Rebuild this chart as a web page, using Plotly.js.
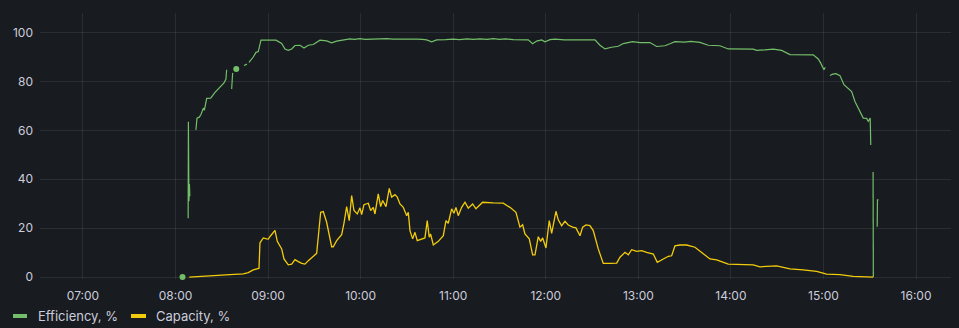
<!DOCTYPE html>
<html>
<head>
<meta charset="utf-8">
<script src="https://cdn.plot.ly/plotly-3.0.1.min.js"></script>
<style>
html,body{margin:0;padding:0;background:#181b1f;}
#chart{width:959px;height:328px;}
</style>
</head>
<body>
<div id="chart"></div>
<script>
// ---- data ----
const day = '2024-05-01 ';
const seriesNames = ['Efficiency, %', 'Capacity, %'];
const seriesColors = ['#73bf69', '#f2cc0c'];

const effTime = ['08:04:30','08:06:00','08:08:10','08:08:20','08:08:40','08:09:00','08:09:15','08:11:00',
'08:13:13','08:13:54','08:15:23','08:16:29','08:18:00','08:18:40','08:20:11','08:22:47','08:25:34','08:28:48','08:31:24','08:32:41','08:33:07','08:34:30',
'08:36:23','08:37:02','08:38:00','08:39:22','08:42:00','08:44:22','08:46:18','08:47:00',
'08:47:36','08:50:23','08:52:09','08:53:38','08:55:22','09:05:06','09:08:48','09:10:56','09:13:04','09:15:17','09:17:25','09:20:40','09:23:16','09:26:03','09:29:17','09:33:37','09:37:57','09:41:12','09:44:26','09:49:50',
'09:53:00','09:56:00','09:59:33','10:03:00','10:08:00','10:12:00','10:17:00','10:21:00','10:26:00','10:31:00','10:36:00','10:40:00','10:42:47','10:46:02','10:49:16','10:55:00','11:00:00','11:04:00','11:09:00','11:13:00','11:17:20','11:22:00','11:26:00','11:30:00','11:34:00','11:38:55','11:48:38','11:51:29','11:54:05','11:57:19','11:59:28','12:02:43','12:06:00','12:12:00','12:20:00','12:31:53',
'12:35:08','12:38:22','12:42:42','12:46:59','12:50:14','12:56:19','13:01:03','13:07:32','13:11:52','13:17:15','13:20:30','13:23:44','13:30:00','13:34:00','13:39:56','13:45:19','13:52:54','13:58:17','14:14:29','14:16:41','14:22:00','14:27:28','14:32:54','14:38:17','14:53:23','14:56:37','14:58:10','14:59:28','15:00:19','15:01:10','15:02:30',
'15:04:13','15:06:00','15:08:06','15:10:42','15:13:18','15:16:00','15:18:17','15:20:25','15:23:12','15:25:48','15:28:00','15:29:01','15:30:19','15:30:40','15:31:30',
'15:32:10','15:32:20','15:33:30','15:34:50','15:35:00','15:35:40'];
const effValue = [0,null,24,63.5,31,38,33,null,
60.2,65,65.4,66.5,69.1,68.2,73.1,73.2,75.5,77.7,79.4,81,84.8,null,
76.9,83.5,null,85.1,null,86.5,87.1,null,
87.8,90,91.9,92.2,96.9,96.9,95.5,93.3,92.7,93.3,94.7,94.8,93.7,94.8,95.1,96.9,96.6,95.8,96.5,97.1,
97.4,97.2,97.5,97.2,97.4,97.3,97.5,97.3,97.4,97.2,97.3,97.2,97.0,96.2,97.0,97.1,97.3,97.1,97.4,97.2,97.4,97.2,97.5,97.2,97.4,97.1,97.0,95.4,96.5,97.0,96.2,97.1,97.3,97.0,97.1,97.0,
94.8,93.3,94.0,94.4,95.5,96.3,95.9,95.9,94.3,94.6,95.4,96.3,96.1,96.4,96.0,94.8,94.6,93.3,93.2,92.7,92.9,93.2,92.7,91.0,90.9,89.2,87.6,85.8,84.8,85.8,null,
82.4,83.0,83.2,82.4,78.7,77.0,75.9,71.8,68.4,65.0,64.9,63.7,65.0,54,null,
43,0,null,20.6,31.6,31.6];

const capTime = ['08:08:54','08:15:50','08:26:40','08:27:30','08:35:17','08:43:54','08:47:08','08:50:23','08:53:14','08:54:05','08:54:44','08:56:53','08:59:05','09:00:07','09:01:40','09:04:28','09:05:57','09:08:48','09:10:17','09:13:04','09:15:17','09:17:25','09:19:34','09:21:46','09:23:55','09:26:03','09:31:29',
'09:34:05','09:35:46','09:37:57','09:41:12','09:42:14','09:44:26','09:47:41','09:49:10','09:50:55','09:52:36','09:54:10','09:55:40','09:57:49','09:59:33','10:00:39','10:02:08','10:04:56','10:06:29','10:08:10','10:09:16','10:11:25','10:12:58','10:14:16','10:16:25','10:18:33','10:20:06','10:22:15','10:23:44','10:25:29','10:27:37','10:29:50','10:30:52','10:31:58','10:33:42','10:35:12','10:36:41','10:39:32','10:41:40','10:43:10','10:44:27','10:45:20','10:47:06','10:50:20','10:53:35','10:55:18','10:56:47','10:58:59',
'11:00:28','11:01:46','11:03:16','11:05:28','11:07:37','11:09:46','11:12:35','11:14:44','11:19:04','11:25:56','11:32:25','11:36:46','11:40:40','11:43:15','11:45:00','11:46:30','11:49:18','11:51:29','11:53:00','11:55:08','11:56:41','11:57:59',
'12:00:07','12:02:15','12:03:49','12:06:36','12:08:06','12:10:17','12:12:26','12:14:34','12:17:25','12:19:34','12:22:10','12:23:55','12:26:03','12:28:38','12:30:47','12:34:01','12:37:16','12:41:36','12:45:58','12:48:07','12:51:22','12:53:29','12:55:40','12:58:55',
'13:02:09','13:05:24','13:09:42','13:12:17','13:15:07','13:19:25','13:21:36','13:23:44','13:27:00','13:31:19','13:36:43','13:42:05','13:46:25','13:50:46','13:58:17','14:14:29','14:18:50','14:29:40','14:38:17','14:46:54','14:55:34','15:02:05','15:10:42','15:19:19','15:28:00','15:32:17'];
const capValue = [0,0.2,0.4,0.7,1,1.3,1.8,2.9,3.4,3.5,14,16,15.6,15.5,16.9,19.1,14.6,11.5,7.4,5,5.3,7.1,6.3,5.6,5.3,6.7,9.7,
26.5,26.8,22.4,12.4,12.4,14.9,17.3,22,28.8,23.1,33.3,27.2,25.8,28.3,25.5,29.6,30.2,27.2,28.5,25.8,34,28.8,31.3,28.8,36.3,32.7,33.7,32.7,29.9,28.5,25.1,26.5,19,15.6,18.3,14.9,15.6,16,23.1,16.3,17.6,13.1,14.6,16.9,23.1,22,27.9,
26.1,28.5,25.1,28.5,30.6,28.2,29.9,27.9,30.6,30.3,30.2,28.5,26.5,20.4,21.4,17.6,15.6,9.1,9.1,16.5,14.6,16,
11.9,23.1,17.9,26.9,23.4,21,22.8,21.3,20.4,20.1,16.9,20.4,21.3,21,19,11.5,5.6,5.6,5.7,8.1,10.1,9.1,11.2,10.5,
10.8,10.1,9.4,6,7,8.5,8.7,12.8,13.1,13.1,12.2,9.7,7.4,7,5.3,5,4.2,4.6,3.3,2.9,2.3,1.2,1,0.3,0,0];

const yTicks = [0, 20, 40, 60, 80, 100];

// ---- build ----
function isolated(xs, ys) {
  const ox = [], oy = [];
  for (let i = 0; i < ys.length; i++) {
    if (ys[i] === null) continue;
    const prevNull = i === 0 || ys[i-1] === null;
    const nextNull = i === ys.length - 1 || ys[i+1] === null;
    if (prevNull && nextNull) { ox.push(xs[i]); oy.push(ys[i]); }
  }
  return {x: ox, y: oy};
}

const effX = effTime.map(t => day + t);
const capX = capTime.map(t => day + t);
const effIso = isolated(effX, effValue);
const capIso = isolated(capX, capValue);

const traces = [
  {x: effX, y: effValue, type: 'scatter', mode: 'lines', name: seriesNames[0],
   line: {color: seriesColors[0], width: 1.2}, connectgaps: false, hoverinfo: 'skip'},
  {x: effIso.x, y: effIso.y, type: 'scatter', mode: 'markers', name: seriesNames[0], showlegend: false,
   marker: {color: seriesColors[0], size: 6}, cliponaxis: false, hoverinfo: 'skip'},
  {x: capX, y: capValue, type: 'scatter', mode: 'lines', name: seriesNames[1],
   line: {color: seriesColors[1], width: 1.3}, connectgaps: false, hoverinfo: 'skip'},
  {x: capIso.x, y: capIso.y, type: 'scatter', mode: 'markers', name: seriesNames[1], showlegend: false,
   marker: {color: seriesColors[1], size: 6}, cliponaxis: false, hoverinfo: 'skip'}
];

const W = 959, H = 328;
const M = {l: 40, r: 8, t: 13, b: 49};
const pw = W - M.l - M.r, ph = H - M.t - M.b;
const px = v => (v - M.l) / pw;
const py = v => (H - M.b - v) / ph;

// legend (swatch + text) built from series names/colors
const legendItems = [
  {sx0: 13, sx1: 27, tx: 36},
  {sx0: 131, sx1: 146, tx: 154}
];
const shapes = [], annotations = [];
legendItems.forEach((it, i) => {
  shapes.push({type: 'rect', xref: 'paper', yref: 'paper',
    x0: px(it.sx0), x1: px(it.sx1), y0: py(318), y1: py(314),
    fillcolor: seriesColors[i], line: {width: 0}, layer: 'above'});
  annotations.push({xref: 'paper', yref: 'paper', x: px(it.tx), y: py(316),
    xanchor: 'left', yanchor: 'middle', showarrow: false, text: seriesNames[i],
    font: {family: 'Inter, sans-serif', size: 13, color: '#ccccdc'}});
});

const layout = {
  width: W, height: H, margin: {l: M.l, r: M.r, t: M.t, b: M.b, pad: 0},
  paper_bgcolor: '#181b1f', plot_bgcolor: '#181b1f',
  font: {family: 'Inter, sans-serif', size: 12, color: '#ccccdc'},
  showlegend: false,
  xaxis: {type: 'date', range: [day + '06:32:08', day + '16:22:41'],
    tickformat: '%H:%M', dtick: 3600000, tick0: day + '07:00:00',
    showgrid: true, gridcolor: 'rgba(204,204,220,0.1)', gridwidth: 1,
    zeroline: false, showline: false, ticks: '', ticklabelstandoff: 8,
    tickfont: {size: 12, color: '#ccccdc'}},
  yaxis: {range: [-0.8, 108], tickvals: yTicks, ticktext: yTicks.map(String),
    showgrid: true, gridcolor: 'rgba(204,204,220,0.1)', gridwidth: 1,
    zeroline: false, showline: false, ticks: '', ticklabelstandoff: 6,
    tickfont: {size: 12, color: '#ccccdc'}},
  shapes: shapes, annotations: annotations
};

Plotly.newPlot('chart', traces, layout, {displayModeBar: false, staticPlot: true});
</script>
</body>
</html>
